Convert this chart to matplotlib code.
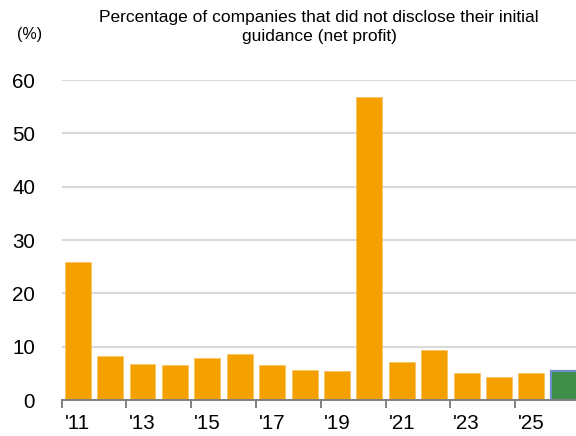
import matplotlib.pyplot as plt

plt.rcParams['font.family'] = ['Liberation Sans', 'DejaVu Sans']

# share of companies without initial net profit guidance, by fiscal year
years = list(range(2011, 2027))
pct = [25.9, 8.25, 6.7, 6.6, 7.9, 8.6, 6.5, 5.6, 5.45, 56.75,
       7.1, 9.3, 5.1, 4.4, 5.1, 5.45]
label_years = ["'11", "'13", "'15", "'17", "'19", "'21", "'23", "'25"]
yticks = [0, 10, 20, 30, 40, 50, 60]

orange = '#F4A100'
green = '#3F8F48'

fig = plt.figure(figsize=(5.76, 4.36), dpi=100)
ax = fig.add_axes([61.5 / 576, 36 / 436, 518.5 / 576, 320 / 436])

x = list(range(len(years)))
colors = [orange] * (len(years) - 1) + [green]
bars = ax.bar(x, pct, width=0.8, color=colors, edgecolor='#F8C46A',
              linewidth=0.6, zorder=3)
# latest year is a forecast, outlined in blue
bars[-1].set_edgecolor('#6E8FC9')
bars[-1].set_linewidth(1.6)

ax.set_xlim(-0.5, len(years) - 0.5)
ax.set_ylim(0, 60)
ax.set_yticks(yticks)
ax.set_yticklabels([str(v) for v in yticks], fontsize=14.8)
ax.tick_params(axis='y', length=0, pad=19)
ax.yaxis.grid(True, color='#D9D9D9', linewidth=1.5, zorder=0)
ax.set_axisbelow(True)

# labels at bar centres, tick marks at the left edge of every other bar
lab_pos = [i for i, y in enumerate(years) if y % 2 == 1]
ax.set_xticks(lab_pos)
ax.set_xticklabels(label_years, fontsize=14.8)
ax.set_xticks([p - 0.5 for p in lab_pos], minor=True)
ax.tick_params(axis='x', which='major', length=0, pad=10)
ax.tick_params(axis='x', which='minor', length=6, width=1.4, color='#808080')

for s in ['top', 'right', 'left']:
    ax.spines[s].set_visible(False)
ax.spines['bottom'].set_color('#808080')
ax.spines['bottom'].set_linewidth(1.4)
ax.spines['bottom'].set_zorder(4)

fig.text(319 / 576, 1 - 27 / 436,
         'Percentage of companies that did not disclose their initial\nguidance (net profit)',
         ha='center', va='center', fontsize=12.5, linespacing=1.3)
fig.text(30 / 576, 1 - 35 / 436, '(%)', ha='center', va='center', fontsize=11.5)

fig.savefig('out.png', dpi=100)
